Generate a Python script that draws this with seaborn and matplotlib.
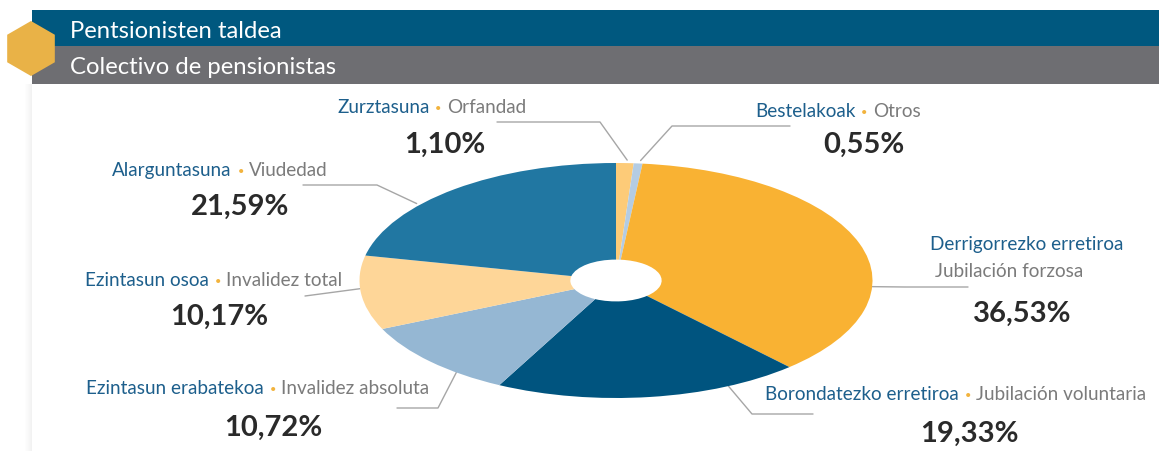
import numpy as np
import matplotlib
matplotlib.use("Agg")
import matplotlib.pyplot as plt
from matplotlib.patches import Rectangle, RegularPolygon
import seaborn as sns

# data
labels_eu = ['Zurztasuna', 'Bestelakoak', 'Derrigorrezko erretiroa', 'Borondatezko erretiroa',
             'Ezintasun erabatekoa', 'Ezintasun osoa', 'Alarguntasuna']
labels_es = ['Orfandad', 'Otros', 'Jubilación forzosa', 'Jubilación voluntaria',
             'Invalidez absoluta', 'Invalidez total', 'Viudedad']
shares = [1.10, 0.55, 36.53, 19.33, 10.72, 10.17, 21.59]
slice_colors = ['#FDCB78', '#B4CCE3', '#F9B233', '#00547F', '#95B7D3', '#FED698', '#2177A2']
title_eu = 'Pentsionisten taldea'
title_es = 'Colectivo de pensionistas'

sns.set_theme(style="white")
plt.rcParams['font.family'] = ['Lato', 'DejaVu Sans']

W, H = 1159, 451
cx, cy, rx, ry = 616, 280.5, 256.5, 117.5
BLUE_TXT = '#1D5F8C'
GRAY_TXT = '#7B7B7B'
DOT = '#F2B33D'
PCT = '#2A2A2A'
LINE = '#A6A6A6'

fig = plt.figure(figsize=(W / 100, H / 100), dpi=100)
bg = fig.add_axes([0, 0, 1, 1])
bg.set_xlim(0, W)
bg.set_ylim(H, 0)
bg.axis('off')

# header bars, hexagon and card shadow
bg.add_patch(Rectangle((32, 10), W - 32, 36, color='#00587F', lw=0))
bg.add_patch(Rectangle((32, 46), W - 32, 38, color='#6E6E72', lw=0))
for i in range(7):
    bg.add_patch(Rectangle((31 - i, 84), 1, H - 84, color='#000000', alpha=0.05 * (1 - i / 7), lw=0))
bg.add_patch(RegularPolygon((31, 48.5), 6, radius=27.5, orientation=0, color='#E9B247', lw=0))
bg.text(70, 37.5, title_eu, color='white', fontsize=17.2, va='baseline')
bg.text(70, 74.5, title_es, color='white', fontsize=17.2, va='baseline')

# pie, squashed into an ellipse
pie_ax = fig.add_axes([(cx - rx) / W, (H - cy - ry) / H, 2 * rx / W, 2 * ry / H])
palette = sns.color_palette(slice_colors)
pie_ax.pie(shares, colors=palette, startangle=90, counterclock=False,
           wedgeprops=dict(width=1 - 0.178, linewidth=0))
pie_ax.set_aspect('auto')
pie_ax.set_xlim(-1, 1)
pie_ax.set_ylim(-1, 1)
pie_ax.patch.set_visible(False)

renderer = fig.canvas.get_renderer()


def rich_line(x, y, parts, size=13.6):
    for txt, col in parts:
        if txt == '•':
            t = bg.text(x + 1, y - 4.5, txt, color=col, fontsize=8, va='center', ha='left')
            x += t.get_window_extent(renderer).width + 6
            continue
        t = bg.text(x, y, txt, color=col, fontsize=size, va='baseline', ha='left')
        x += t.get_window_extent(renderer).width + 5


def edge(angle):
    a = np.deg2rad(angle)
    return cx + rx * np.cos(a), cy - ry * np.sin(a)


# label layout: (text start x, label baseline, pct centre x, pct baseline, anchor angle, elbow points)
layout = [
    (337, 113, 445, 153, 87.5, [(600, 122), (497, 122)]),
    (755, 117, 864, 153, 84.5, [(672, 126), (790, 126)]),
    (930, 250, 1022, 322, -3.0, [(905, 287), (968, 287)]),
    (765, 400, 969, 442, -64.0, [(752, 414), (813, 414)]),
    (86, 394, 273, 436, -128.5, [(438, 408), (397, 408)]),
    (85, 286, 219, 325, -176.0, [(305, 296)]),
    (112, 176, 240, 215, 141.0, [(377, 185), (303, 185)]),
]

for i, (lx, ly, px, py, ang, pts) in enumerate(layout):
    x0, y0 = edge(ang)
    xs = [x0] + [p[0] for p in pts]
    ys = [y0 - 3 if ang > 60 else y0] + [p[1] for p in pts]
    bg.plot(xs, ys, color=LINE, lw=1, zorder=1)
    if i == 2:
        rich_line(lx, ly, [(labels_eu[i], BLUE_TXT)])
        rich_line(lx + 5, ly + 27, [(labels_es[i], GRAY_TXT)])
    else:
        rich_line(lx, ly, [(labels_eu[i], BLUE_TXT), ('•', DOT), (labels_es[i], GRAY_TXT)])
    pct = f"{shares[i]:.2f}%".replace('.', ',')
    bg.text(px, py, pct, color=PCT, fontsize=21, fontweight='bold', ha='center', va='baseline')

fig.savefig("out.png", dpi=100)
